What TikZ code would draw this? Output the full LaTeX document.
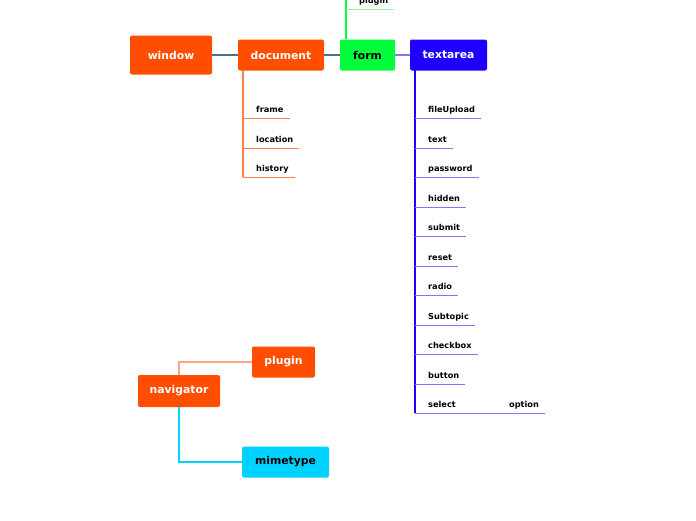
\documentclass[tikz,border=0pt]{standalone}
\usepackage{fontspec}
\setmainfont{DejaVu Sans}
\definecolor{topicorange}{HTML}{FF4E00}
\definecolor{topicgreen}{HTML}{00FF3A}
\definecolor{topicblue}{HTML}{1E00FF}
\definecolor{topiccyan}{HTML}{00D2FF}
\definecolor{linkgray}{HTML}{4A6E96}
\definecolor{linkviolet}{HTML}{7F78FF}
\definecolor{leaforange}{HTML}{FF8048}
\definecolor{leafsalmon}{HTML}{FFA582}
\begin{document}
\begin{tikzpicture}[x=1pt,y=-1pt,
  topic/.style={rounded corners=2pt,inner sep=0pt,minimum height=31pt,
    font=\bfseries\fontsize{10.8}{12}\selectfont},
  leaf/.style={anchor=south west,inner xsep=0pt,inner ysep=3.2pt,
    text height=6.5pt,text depth=1.8pt,font=\bfseries\fontsize{8.2}{10}\selectfont},
  link/.style={line width=1.2pt},
  twig/.style={line width=0.8pt}]
\useasboundingbox (0,0) rectangle (696,520);

\node[topic,fill=topicorange,text=white,minimum width=82pt,minimum height=39pt] (window) at (171,55) {window};
\node[topic,fill=topicorange,text=white,minimum width=86pt] (document) at (281,55) {document};
\node[topic,fill=topicgreen,text=black,minimum width=55pt] (form) at (367.5,55) {form};
\node[topic,fill=topicblue,text=white,minimum width=77pt] (textarea) at (448.5,55) {textarea};

\draw[link,linkgray] (window) -- (document);
\draw[link,linkgray] (document) -- (form);
\draw[link,linkviolet] (form) -- (textarea);

% form
\coordinate (formtrunk) at (346,-5);
\node[leaf] (formplugin) at (359,9) {plugin};
\draw[link,topicgreen] (formtrunk |- form.north) -- (formtrunk);
\draw[twig,topicgreen!50] (formtrunk |- formplugin.south) -- ([xshift=6pt]formplugin.south east);

% document
\coordinate (doctrunk) at (243,70);
\node[leaf] (frame) at (256,118) {frame};
\node[leaf] (location) at (256,148) {location};
\node[leaf] (history) at (256,177) {history};
\draw[link,leaforange] (doctrunk) -- (doctrunk |- history.south);
\draw[twig,leaforange] (doctrunk |- frame.south) -- ([xshift=6pt]frame.south east);
\draw[twig,leaforange] (doctrunk |- location.south) -- ([xshift=6pt]location.south east);
\draw[twig,leaforange] (doctrunk |- history.south) -- ([xshift=6pt]history.south east);

% textarea
\coordinate (tatrunk) at (415,70);
\node[leaf] (fileupload) at (428,118) {fileUpload};
\node[leaf] (text) at (428,148) {text};
\node[leaf] (password) at (428,177) {password};
\node[leaf] (hidden) at (428,207) {hidden};
\node[leaf] (submit) at (428,236) {submit};
\node[leaf] (reset) at (428,266) {reset};
\node[leaf] (radio) at (428,295) {radio};
\node[leaf] (subtopic) at (428,325) {Subtopic};
\node[leaf] (checkbox) at (428,354) {checkbox};
\node[leaf] (button) at (428,384) {button};
\node[leaf] (select) at (428,413) {select};
\node[leaf] (option) at (509,413) {option};
\draw[link,topicblue] (tatrunk) -- (tatrunk |- select.south);
\foreach \leafname in {fileupload,text,password,hidden,submit,reset,radio,subtopic,checkbox,button}
  \draw[twig,linkviolet] (tatrunk |- \leafname.south) -- ([xshift=6pt]\leafname.south east);
\draw[twig,linkviolet] (tatrunk |- select.south) -- ([xshift=6pt]option.south east);

% navigator
\node[topic,fill=topicorange,text=white,minimum width=82pt,minimum height=32pt] (navigator) at (179,391) {navigator};
\node[topic,fill=topicorange,text=white,minimum width=63pt] (plugin) at (283.5,362) {plugin};
\node[topic,fill=topiccyan,text=black,minimum width=87pt] (mimetype) at (285.5,462) {mimetype};
\draw[link,leafsalmon] (navigator.north) |- (plugin.west);
\draw[link,topiccyan] (navigator.south) |- (mimetype.west);
\end{tikzpicture}
\end{document}
